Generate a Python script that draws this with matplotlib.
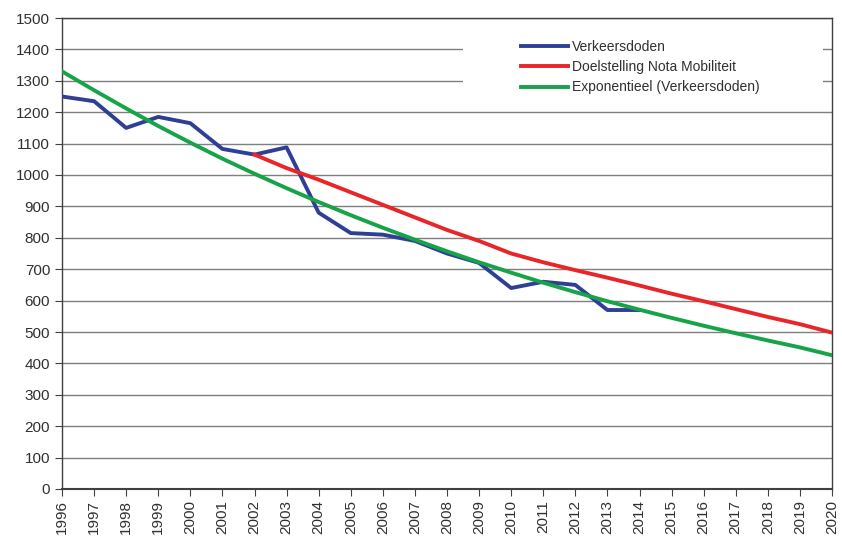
import matplotlib
matplotlib.use("Agg")
import matplotlib.pyplot as plt
from matplotlib.patches import Rectangle

plt.rcParams['font.family'] = ['Liberation Sans', 'DejaVu Sans']

years = list(range(1996, 2021))
blue_years = list(range(1996, 2015))
verkeersdoden = [1250, 1235, 1150, 1185, 1165, 1083, 1065, 1088, 880, 815, 810, 790,
                 750, 720, 640, 660, 650, 570, 570]
red_years = list(range(2002, 2021))
doelstelling = [1065, 1022, 985, 945, 905, 865, 825, 790, 750, 722, 697, 673, 648,
                622, 598, 573, 548, 525, 498]
exponentieel = [1330, 1270, 1212, 1156, 1103, 1052, 1004, 958, 914, 872, 832, 794,
                757, 722, 689, 657, 627, 598, 571, 545, 520, 496, 473, 451, 426]

fig = plt.figure(figsize=(8.42, 5.40), dpi=100)
ax = fig.add_axes([62/842, 51/540, 770/842, 471/540])

ax.set_xlim(1996, 2020)
ax.set_ylim(0, 1500)
ax.set_yticks(range(0, 1501, 100))
ax.set_xticks(years)
ax.set_xticklabels([str(y) for y in years], rotation=90)
ax.grid(axis='y', color='#7f7f7f', linewidth=1.0, zorder=0)
ax.set_axisbelow(True)

# white legend area covering the grid
ax.add_patch(Rectangle(((463-62)/770, (489-104)/471), 360/770, 84/471,
                       transform=ax.transAxes, facecolor='white', edgecolor='none',
                       zorder=1.5))

ax.plot(blue_years, verkeersdoden, color='#2f3f96', linewidth=2.8, label='Verkeersdoden',
        zorder=3)
ax.plot(red_years, doelstelling, color='#e8262a', linewidth=2.8, label='Doelstelling Nota Mobiliteit',
        zorder=4)
ax.plot(years, exponentieel, color='#17a347', linewidth=2.8, label='Exponentieel (Verkeersdoden)',
        zorder=5)

for s in ax.spines.values():
    s.set_color('#404040')
    s.set_linewidth(1.0)
ax.spines['bottom'].set_linewidth(1.5)
ax.tick_params(axis='both', direction='out', length=5, color='#404040', labelsize=11,
               labelcolor='#303030')
ax.tick_params(axis='x', pad=3)

leg = ax.legend(loc='upper left', bbox_to_anchor=((521-62)/770, (489-40)/471),
                frameon=False, borderpad=0, borderaxespad=0,
                handlelength=3.4, handletextpad=0.3, labelspacing=0.45,
                fontsize=10)
for t in leg.get_texts():
    t.set_color('#303030')

fig.savefig('out.png', dpi=100)
